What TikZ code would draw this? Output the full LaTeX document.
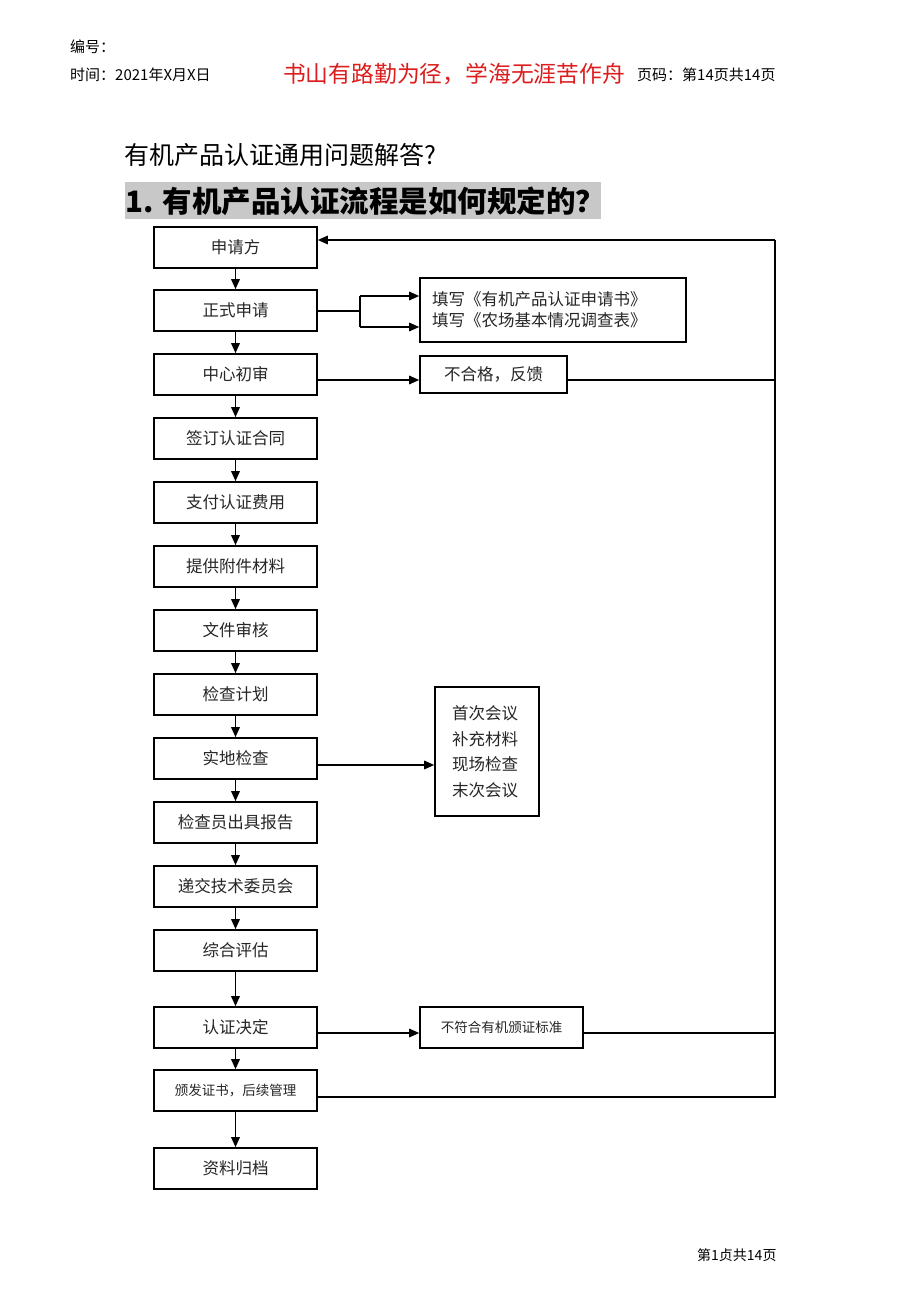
\documentclass[tikz,border=0pt]{standalone}
\usepackage{fontspec}
\setmainfont{Noto Sans CJK SC}
\newfontfamily\cjk{Noto Sans CJK SC}
\usetikzlibrary{arrows.meta}
\definecolor{mottored}{RGB}{220,30,30}
\definecolor{headgray}{RGB}{200,200,200}
\tikzset{
  stepbox/.style={draw, line width=1.6pt, minimum width=163pt, minimum height=41pt, inner sep=0pt, font=\fontsize{16.5}{19}\selectfont, text=black!85},
  sidebox/.style={draw, line width=1.6pt, inner sep=0pt, font=\fontsize{16.5}{19}\selectfont, text=black!85},
  conn/.style={line width=1.6pt, -{Triangle[length=10pt,width=8.5pt]}},
  plain/.style={line width=1.6pt},
  hdr/.style={anchor=west, inner sep=0pt, font=\fontsize{15}{18}\selectfont},
}
\begin{document}
\begin{tikzpicture}[x=1pt,y=-1pt]
\path[use as bounding box, fill=white] (0,0) rectangle (920,1301);
% header
\node[hdr] (bh) at (70,47) {编号：};
\node[hdr] (sj) at (70,75) {时间：2021年X月X日};
\node[anchor=center, inner sep=0pt, text=mottored, font=\fontsize{22.8}{25}\selectfont] (motto) at (454,74) {书山有路勤为径，学海无涯苦作舟};
\node[hdr] (ym) at (637,75) {页码：第14页共14页};
% titles
\node[anchor=west, inner sep=0pt, font=\fontsize{25}{28}\selectfont] (t1) at (124,155) {有机产品认证通用问题解答?};
\fill[headgray] (125,182) rectangle (601,219);
\node[anchor=west, inner sep=0pt, font=\fontsize{29.5}{32}\selectfont\bfseries] (t2) at (125,201) {1. 有机产品认证流程是如何规定的？};
% main boxes
\node[stepbox] (b1) at (235.5,247.5) {申请方};
\node[stepbox] (b2) at (235.5,310.5) {正式申请};
\node[stepbox] (b3) at (235.5,374.5) {中心初审};
\node[stepbox] (b4) at (235.5,438.5) {签订认证合同};
\node[stepbox] (b5) at (235.5,502.5) {支付认证费用};
\node[stepbox] (b6) at (235.5,566.5) {提供附件材料};
\node[stepbox] (b7) at (235.5,630.5) {文件审核};
\node[stepbox] (b8) at (235.5,694.5) {检查计划};
\node[stepbox] (b9) at (235.5,758.5) {实地检查};
\node[stepbox] (b10) at (235.5,822.5) {检查员出具报告};
\node[stepbox] (b11) at (235.5,886.5) {递交技术委员会};
\node[stepbox] (b12) at (235.5,950.5) {综合评估};
\node[stepbox] (b13) at (235.5,1027.5) {认证决定};
\node[stepbox, font=\fontsize{13.5}{16}\selectfont] (b14) at (235.5,1090.5) {颁发证书，后续管理};
\node[stepbox] (b15) at (235.5,1168.5) {资料归档};
% vertical arrows
\foreach \a/\b in {b1/b2,b2/b3,b3/b4,b4/b5,b5/b6,b6/b7,b7/b8,b8/b9,b9/b10,b10/b11,b11/b12,b12/b13,b13/b14,b14/b15}{
  \draw[conn] (\a.south) -- (\b.north);
}
% side boxes
\node[sidebox, minimum width=266pt, minimum height=64pt, align=left, text width=242pt] (s1) at (553,310) {填写《有机产品认证申请书》\\[2pt]填写《农场基本情况调查表》};
\node[sidebox, minimum width=147pt, minimum height=37pt] (s2) at (493.5,374.5) {不合格，反馈};
\node[sidebox, minimum width=104pt, minimum height=129pt, align=left, text width=70pt, font=\fontsize{16.5}{25.5}\selectfont] (s3) at (487,751.5) {首次会议\\补充材料\\现场检查\\末次会议\\[10pt]};
\node[sidebox, minimum width=163pt, minimum height=41pt, font=\fontsize{13.5}{16}\selectfont] (s4) at (501.5,1027.5) {不符合有机颁证标准};
% fork from b2
\coordinate (fk) at (360,311);
\draw[plain] (b2.east |- fk) -- (fk);
\draw[plain] (360,296) -- (360,327);
\draw[conn] (360,296) -- (s1.west |- 0,296);
\draw[conn] (360,327) -- (s1.west |- 0,327);
% right side connectors
\draw[conn] (b3.east |- 0,380) -- (s2.west |- 0,380);
\draw[conn] (b9.east |- 0,765) -- (s3.west |- 0,765);
\draw[conn] (b13.east |- 0,1033) -- (s4.west |- 0,1033);
% return loop
\coordinate (rt) at (775,240);
\coordinate (rb) at (775,1097);
\draw[plain] (s2.east |- 0,380) -- (775,380);
\draw[plain] (s4.east |- 0,1033) -- (775,1033);
\draw[plain] (b14.east |- rb) -- (rb) -- (rt);
\draw[conn] (rt) -- (b1.east |- rt);
% footer
\node[hdr, font=\fontsize{14}{17}\selectfont] (ft) at (697,1255) {第1贞共14页};
\end{tikzpicture}
\end{document}
